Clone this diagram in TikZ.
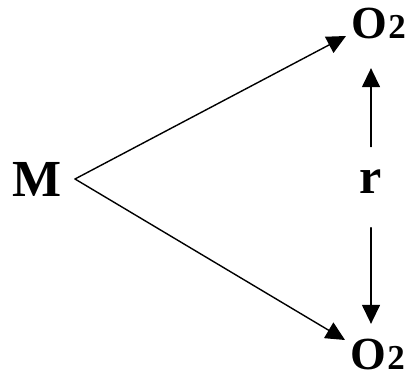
\documentclass[tikz,border=0pt]{standalone}
\usepackage{fontspec}
\setmainfont{Liberation Serif}
\usetikzlibrary{arrows.meta}

\begin{document}
\begin{tikzpicture}[x=1pt,y=1pt,line cap=round,line join=round,>={Triangle[length=19pt,width=18pt]},line width=1.4pt,font=\fontsize{46}{50}\selectfont\bfseries,every node/.style={inner sep=0pt}]
    \useasboundingbox[fill=white] (0,0) rectangle (411,378);

    \node[anchor=east,inner xsep=13pt,font=\fontsize{52}{56}\selectfont\bfseries] (M) at (75,199) {M};
    \node[anchor=base west] (Otop) at (351,339) {O\kern1pt{\fontsize{35}{35}\selectfont 2}};
    \node[anchor=base west] (Obot) at (350,9) {O\kern1pt{\fontsize{35}{35}\selectfont 2}};
    \node[anchor=base,font=\fontsize{50}{54}\selectfont\bfseries] (r) at (371,185) {r};

    \draw[->] (M.east) -- ([xshift=-5pt,yshift=3pt]Otop.base west);
    \draw[->] (M.east) -- ([xshift=-5pt,yshift=29pt]Obot.base west);

    \draw[->,shorten <=22pt,shorten >=28pt] (r.north) -- (r.north |- Otop.south);
    \draw[->,shorten <=34pt,shorten >=14pt] (r.south) -- (r.south |- Obot.north);

\end{tikzpicture}
\end{document}
